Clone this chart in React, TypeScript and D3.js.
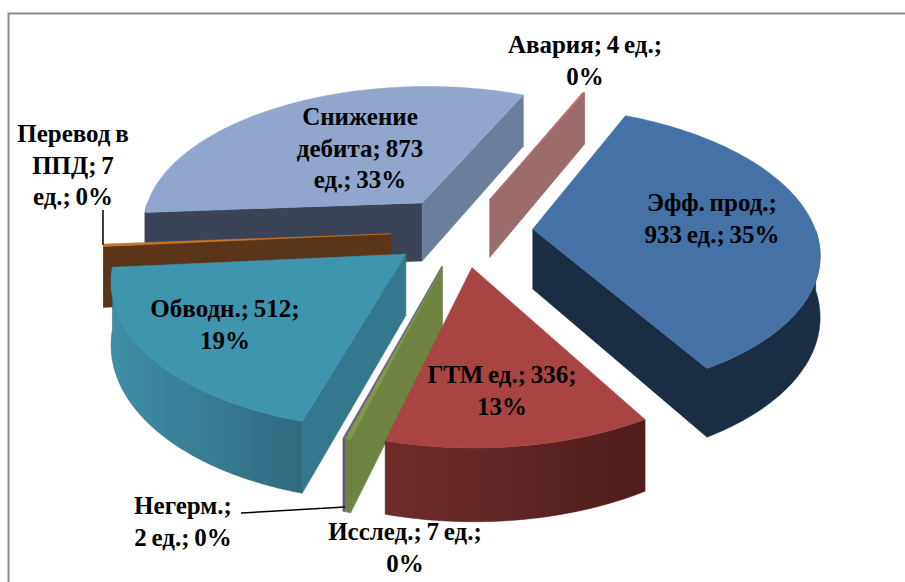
import React from "react";
import * as d3 from "d3";

const names = ["Эфф. прод.", "ГТМ", "Исслед.", "Негерм.", "Обводн.", "Перевод в ППД", "Снижение дебита", "Авария"];
const values = [933, 336, 7, 2, 512, 7, 873, 4];
const topColors = ["#4471a6", "#a84543", "#7f9b48", "#6a5490", "#3f94ae", "#c8752b", "#90a6cd", "#b86a68"];
const startWallColors = ["#1b2e45", "#5a2322", "#6f8440", "#5f4a80", "#33788c", "#5a3519", "#3a4456", "#9c6b6b"];
const endWallColors = ["#1b2d42", "#5a2322", "#6f8440", "#5f4a80", "#33788c", "#5a3519", "#6b7f9c", "#9c6b6b"];
const outerFrom = ["#1b2d42", "#6e2c2b", "#6f8440", "#5f4a80", "#3f8fa6", "#5a3519", "#3a4456", "#9c6b6b"];
const outerTo = ["#1b2d42", "#4f1d1c", "#6f8440", "#5f4a80", "#2f6a80", "#5a3519", "#3a4456", "#9c6b6b"];
const drawOrder = [6, 7, 0, 5, 4, 3, 2, 1];

const labelLines = [
  ["Эфф. прод.;", "933 ед.; 35%"],
  ["ГТМ ед.; 336;", "13%"],
  ["Исслед.; 7 ед.;", "0%"],
  ["Негерм.;", "2 ед.; 0%"],
  ["Обводн.; 512;", "19%"],
  ["Перевод в", "ППД; 7", "ед.; 0%"],
  ["Снижение", "дебита; 873", "ед.; 33%"],
  ["Авария; 4 ед.;", "0%"],
];
const labelX = [712, 502, 405, 183, 225, 73, 360, 585];
const labelY = [211, 383, 540, 514, 317, 142, 125, 53];

const W = 905, H = 582;
const cx = 462, cy = 231, R = 283, explode = 71, k = 0.5, D = 1900, depth = 60;
const startDeg = 24;

const pieGen = d3.pie<number>().sort(null).startAngle((startDeg * Math.PI) / 180).endAngle(((startDeg + 360) * Math.PI) / 180);
const arcs = pieGen(values);

type P = [number, number];
const project = (X: number, Y: number, z: number): P => {
  const s = 1 / (1 - Y / D);
  return [cx + X * s, cy + k * Y * s + z * s];
};
const line = d3.line<P>();

export default function App() {
  const radial = d3.scaleLinear().domain([0, 1]).range([0, R]);
  return (
    <svg width={W} height={H} style={{ position: "absolute", left: 0, top: 0, background: "#fff" }}>
      <defs>
        {values.map((_, i) => (
          <linearGradient key={i} id={`outer${i}`} x1="0" x2="1" y1="0" y2="0">
            <stop offset="0%" stopColor={outerFrom[i]} />
            <stop offset="100%" stopColor={outerTo[i]} />
          </linearGradient>
        ))}
      </defs>
      <path d={`M905,13.5H8.5V582`} fill="none" stroke="#8c8c8c" strokeWidth={2} />
      {drawOrder.map((i) => {
        const a = arcs[i];
        const mid = (a.startAngle + a.endAngle) / 2;
        const ox = explode * Math.sin(mid);
        const oy = -explode * Math.cos(mid);
        const pt = (ang: number, r: number, z: number) =>
          project(ox + r * Math.sin(ang), oy - r * Math.cos(ang), z);
        const n = Math.max(2, Math.ceil((a.endAngle - a.startAngle) * 60));
        const angs = d3.range(n + 1).map((j) => a.startAngle + ((a.endAngle - a.startAngle) * j) / n);
        const top: P[] = [pt(0, 0, 0), ...angs.map((t) => pt(t, radial(1), 0))];
        const quad = (ang: number): P[] => [pt(ang, 0, 0), pt(ang, radial(1), 0), pt(ang, radial(1), depth), pt(ang, 0, depth)];
        const startVisible = Math.cos(a.startAngle - Math.PI / 2) < 0;
        const endVisible = Math.cos(a.endAngle + Math.PI / 2) < 0;
        const frontAngs = angs.filter((t) => Math.cos(t) < 0);
        const outer: P[] = [
          ...frontAngs.map((t) => pt(t, radial(1), 0)),
          ...frontAngs.slice().reverse().map((t) => pt(t, radial(1), depth)),
        ];
        return (
          <g key={i}>
            {startVisible && <path d={line(quad(a.startAngle))! + "Z"} fill={startWallColors[i]} stroke={startWallColors[i]} strokeWidth={0.5} />}
            {endVisible && <path d={line(quad(a.endAngle))! + "Z"} fill={endWallColors[i]} stroke={endWallColors[i]} strokeWidth={0.5} />}
            {frontAngs.length > 1 && <path d={line(outer)! + "Z"} fill={`url(#outer${i})`} stroke={outerTo[i]} strokeWidth={0.5} />}
            <path d={line(top)! + "Z"} fill={topColors[i]} stroke={topColors[i]} strokeWidth={0.5} />
          </g>
        );
      })}
      <path d="M103,210V245" stroke="#000" strokeWidth={1.5} fill="none" />
      <path d="M241,513L345,507" stroke="#000" strokeWidth={1.5} fill="none" />
      {labelLines.map((ls, i) => (
        <text key={names[i]} textAnchor="middle" fontFamily="'Liberation Serif', serif" fontWeight="bold" fontSize={25} wordSpacing={-1.5} fill="#000">
          {ls.map((t, j) => (
            <tspan key={j} x={labelX[i]} y={labelY[i] + j * 31.5}>{t}</tspan>
          ))}
        </text>
      ))}
    </svg>
  );
}
